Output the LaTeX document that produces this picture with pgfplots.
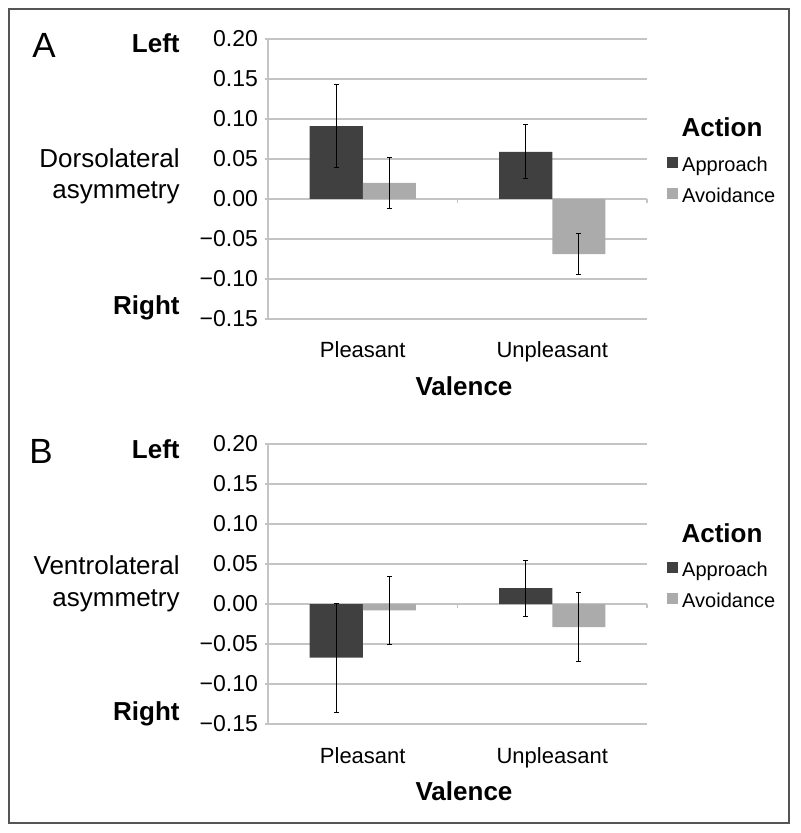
\documentclass[border=0pt]{standalone}
\usepackage{pgfplots}
\pgfplotsset{compat=1.18}
\usepackage{fontspec}
\setmainfont{Liberation Sans}
\definecolor{darkbar}{HTML}{404040}
\definecolor{lightbar}{HTML}{ABABAB}
\definecolor{gridgray}{HTML}{C4C4C4}
\definecolor{framegray}{HTML}{555555}

\pgfplotsset{
  panel/.style={
    scale only axis, width=189.5pt, height=140pt,
    xmin=-0.5, xmax=1.5, ymin=-0.15, ymax=0.20,
    axis lines*=left,
    axis line style={gridgray, line width=0.7pt, -},
    ytick={-0.15,-0.1,-0.05,0,0.05,0.1,0.15,0.2},
    yticklabels={−0.15,−0.10,−0.05,0.00,0.05,0.10,0.15,0.20},
    xtick={0,1}, xticklabels={Pleasant,Unpleasant},
    x tick style={draw=none},
    y tick style={gridgray, line width=0.7pt},
    tick align=outside, major tick length=1.5pt,
    ymajorgrids, grid style={gridgray, line width=0.7pt},
    yticklabel style={font=\fontsize{11.5}{13}\selectfont},
    xticklabel style={font=\fontsize{11}{13}\selectfont, anchor=base, yshift=-18pt},
    clip=false,
    legend image code/.code={\fill[#1] (0pt,-0.5pt) rectangle (5pt,4.5pt); \path (6.5pt,0pt);},
    legend style={at={(1.037,0.49)}, anchor=west, draw=none, fill=none,
      font=\fontsize{10}{12}\selectfont, row sep=5pt,
      nodes={inner sep=0.5pt, text height=7.5pt, text depth=2pt}},
    legend cell align=left,
  },
  barcommon/.style={ybar, draw=none, bar width=0.28, bar shift=0, forget plot,
    error bars/.cd, y dir=both, y explicit,
    error bar style={black, line width=0.5pt},
    error mark options={rotate=90, black, mark size=1.2pt, line width=0.5pt}},
  barA/.style={fill=darkbar, barcommon},
  barB/.style={fill=lightbar, barcommon},
}

\begin{document}
\begin{tikzpicture}
% ---------- Panel A ----------
\begin{axis}[panel, at={(134pt,-159.5pt)}, anchor=south west]
% Approach (left bar of each category)
\addplot[barA] coordinates {(-0.14,0.091) +- (0,0.052) (0.86,0.059) +- (0,0.034)};
% Avoidance (right bar of each category)
\addplot[barB] coordinates {(0.14,0.020) +- (0,0.032) (1.14,-0.069) +- (0,0.026)};
\addlegendimage{darkbar}\addlegendentry{Approach}
\addlegendimage{lightbar}\addlegendentry{Avoidance}
\draw[gridgray, line width=0.7pt] (axis cs:0.5,0) -- ([yshift=-2pt]axis cs:0.5,0);
\draw[gridgray, line width=0.7pt] (axis cs:1.5,0) -- ([yshift=-2pt]axis cs:1.5,0);
\end{axis}
% ---------- Panel B ----------
\begin{axis}[panel, at={(134pt,-362pt)}, anchor=south west]
\addplot[barA] coordinates {(-0.14,-0.067) +- (0,0.068) (0.86,0.020) +- (0,0.035)};
\addplot[barB] coordinates {(0.14,-0.008) +- (0,0.042) (1.14,-0.029) +- (0,0.043)};
\addlegendimage{darkbar}\addlegendentry{Approach}
\addlegendimage{lightbar}\addlegendentry{Avoidance}
\draw[gridgray, line width=0.7pt] (axis cs:0.5,0) -- ([yshift=-2pt]axis cs:0.5,0);
\draw[gridgray, line width=0.7pt] (axis cs:1.5,0) -- ([yshift=-2pt]axis cs:1.5,0);
\end{axis}

\begin{scope}[x=0.5pt, y=-0.5pt]
\path (0,0) rectangle (800,833);
\draw[framegray, line width=1pt] (9,9) rectangle (789,823);
% Panel A texts
\node[anchor=base west, inner sep=0, font=\fontsize{17.5}{20}\selectfont] at (32,58) {A};
\node[anchor=base east, inner sep=0, font=\fontsize{13}{15}\selectfont\bfseries] at (180,53) {Left};
\node[anchor=base east, inner sep=0, font=\fontsize{13}{15}\selectfont] at (180,168) {Dorsolateral};
\node[anchor=base east, inner sep=0, font=\fontsize{13}{15}\selectfont] at (180,199) {asymmetry};
\node[anchor=base east, inner sep=0, font=\fontsize{13}{15}\selectfont\bfseries] at (180,315) {Right};
\node[anchor=base, inner sep=0, font=\fontsize{13}{15}\selectfont\bfseries] at (464,395) {Valence};
\node[anchor=base, inner sep=0, font=\fontsize{13}{15}\selectfont\bfseries] at (722,137) {Action};
% Panel B texts
\node[anchor=base west, inner sep=0, font=\fontsize{17.5}{20}\selectfont] at (29,463) {B};
\node[anchor=base east, inner sep=0, font=\fontsize{13}{15}\selectfont\bfseries] at (180,458) {Left};
\node[anchor=base east, inner sep=0, font=\fontsize{13}{15}\selectfont] at (180,574) {Ventrolateral};
\node[anchor=base east, inner sep=0, font=\fontsize{13}{15}\selectfont] at (180,606) {asymmetry};
\node[anchor=base east, inner sep=0, font=\fontsize{13}{15}\selectfont\bfseries] at (180,720) {Right};
\node[anchor=base, inner sep=0, font=\fontsize{13}{15}\selectfont\bfseries] at (464,800) {Valence};
\node[anchor=base, inner sep=0, font=\fontsize{13}{15}\selectfont\bfseries] at (722,542) {Action};
\end{scope}
\end{tikzpicture}
\end{document}
